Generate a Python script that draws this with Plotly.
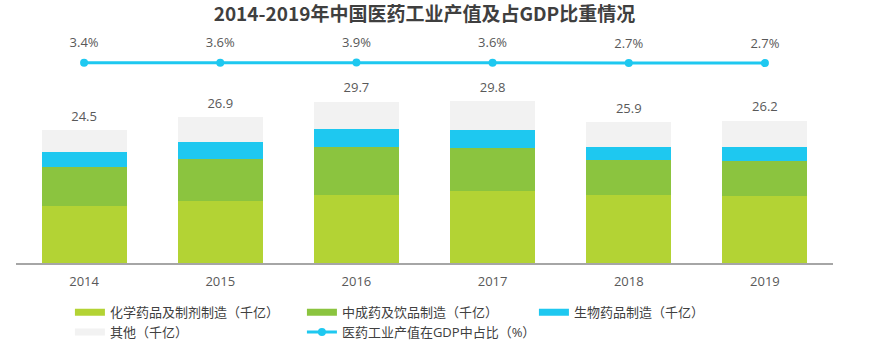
import plotly.graph_objects as go

years = ["2014", "2015", "2016", "2017", "2018", "2019"]
chem = [10.5, 11.4, 12.5, 13.2, 12.5, 12.3]
tcm = [7.2, 7.8, 8.8, 7.9, 6.4, 6.5]
bio = [2.7, 3.0, 3.3, 3.3, 2.4, 2.5]
other = [4.1, 4.7, 5.1, 5.4, 4.6, 4.9]
totals = [24.5, 26.9, 29.7, 29.8, 25.9, 26.2]
pct = [3.4, 3.6, 3.9, 3.6, 2.7, 2.7]

names = ["化学药品及制剂制造（千亿）", "中成药及饮品制造（千亿）", "生物药品制造（千亿）", "其他（千亿）"]
line_name = "医药工业产值在GDP中占比（%）"
colors = ["#b3d334", "#8bc43f", "#1ec8f0", "#f2f2f2"]
line_color = "#1ec8f0"
txt = "#595959"
FONT = "Open Sans, Noto Sans CJK SC, sans-serif"

fig = go.Figure()
for vals, nm, col in zip([chem, tcm, bio, other], names, colors):
    fig.add_trace(go.Bar(x=years, y=vals, name=nm, marker=dict(color=col, line=dict(width=0)),
                         hoverinfo="skip", showlegend=False, legendgroup=nm))
    # legend entry drawn as a wide flat swatch, like the reference
    fig.add_trace(go.Scatter(x=[None], y=[None], name=nm, mode="lines", legendgroup=nm,
                             line=dict(color=col, width=7), hoverinfo="skip"))

fig.add_trace(go.Scatter(x=years, y=pct, name=line_name, yaxis="y2", mode="lines+markers",
                         line=dict(color=line_color, width=3),
                         marker=dict(color=line_color, size=8)))

# total labels above the stacked bars
fig.add_trace(go.Scatter(x=years, y=totals, mode="markers+text", text=[f"{t}" for t in totals],
                         textposition="top center", showlegend=False, hoverinfo="skip",
                         marker=dict(size=8, opacity=0),
                         textfont=dict(size=13, color=txt, family=FONT)))
# percentage labels above the line points
fig.add_trace(go.Scatter(x=years, y=pct, yaxis="y2", mode="markers+text",
                         text=[f"{p}%" for p in pct], textposition="top center",
                         showlegend=False, hoverinfo="skip",
                         marker=dict(size=18, opacity=0),
                         textfont=dict(size=13, color=txt, family=FONT)))

fig.update_layout(
    width=873, height=364,
    margin=dict(l=16, r=40, t=30, b=101),
    paper_bgcolor="white", plot_bgcolor="white",
    barmode="stack", bargap=0.376,
    title=dict(text="<b>2014-2019年中国医药工业产值及占GDP比重情况</b>", x=0.5, xref="paper",
               xanchor="center", y=0.961, yref="container", yanchor="middle",
               font=dict(size=19, color="#3f3f3f", family="Noto Sans CJK SC, sans-serif")),
    xaxis=dict(type="category", range=[-0.5, 5.5], showline=True, linecolor="#a6a6a6",
               linewidth=2, ticks="", ticklabelstandoff=5, showgrid=False, zeroline=False,
               tickfont=dict(size=13, color=txt, family=FONT)),
    yaxis=dict(range=[0, 42.9], visible=False, showgrid=False, zeroline=False),
    yaxis2=dict(range=[-397.1, 68.9], overlaying="y", visible=False, showgrid=False),
    legend=dict(orientation="h", xanchor="left", yanchor="middle", x=0.066, y=-0.254,
                entrywidth=187, entrywidthmode="pixels",
                font=dict(size=13, color="#404040", family=FONT),
                bgcolor="rgba(0,0,0,0)", traceorder="normal"),
    showlegend=True,
)

fig.write_html("out.html", config={"displayModeBar": False},
               post_script="document.body.style.margin='0';")
